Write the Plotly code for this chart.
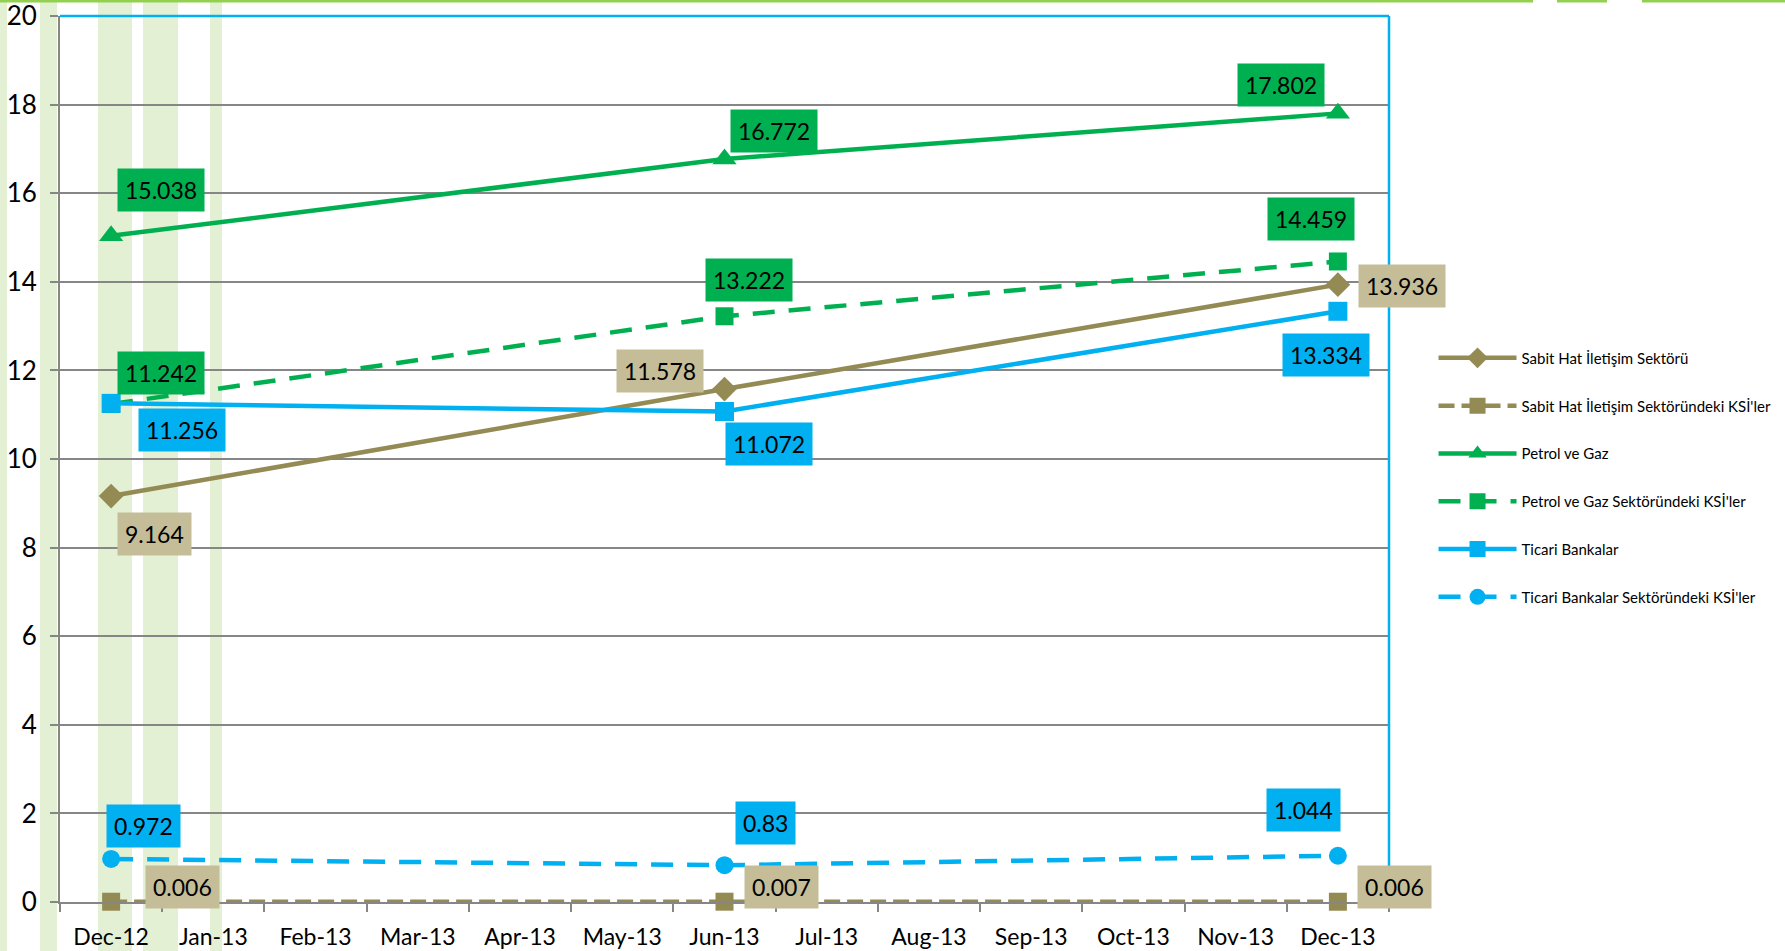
import plotly.graph_objects as go

months = ["Dec-12", "Jan-13", "Feb-13", "Mar-13", "Apr-13", "May-13", "Jun-13",
          "Jul-13", "Aug-13", "Sep-13", "Oct-13", "Nov-13", "Dec-13"]
periods = ["Dec-12", "Jun-13", "Dec-13"]

sabit_hat = [9.164, 11.578, 13.936]
sabit_hat_ksi = [0.006, 0.007, 0.006]
petrol_gaz = [15.038, 16.772, 17.802]
petrol_gaz_ksi = [11.242, 13.222, 14.459]
ticari_banka = [11.256, 11.072, 13.334]
ticari_banka_ksi = [0.972, 0.83, 1.044]

names = ["Sabit Hat İletişim Sektörü",
         "Sabit Hat İletişim Sektöründeki KSİ'ler",
         "Petrol ve Gaz",
         "Petrol ve Gaz Sektöründeki KSİ'ler",
         "Ticari Bankalar",
         "Ticari Bankalar Sektöründeki KSİ'ler"]
y_ticks = [0, 2, 4, 6, 8, 10, 12, 14, 16, 18, 20]

OLIVE, OLIVE_L = "#948a54", "#c4bd97"
GREEN = "#00b050"
BLUE = "#00b0f0"
FONT = "Lato"

series = [
    (sabit_hat, OLIVE, OLIVE_L, "solid", "diamond", 19),
    (sabit_hat_ksi, OLIVE, OLIVE_L, "16px,7px", "square", 18),
    (petrol_gaz, GREEN, GREEN, "solid", "triangle-up", 21),
    (petrol_gaz_ksi, GREEN, GREEN, "22px,14px", "square", 18),
    (ticari_banka, BLUE, BLUE, "solid", "square", 19),
    (ticari_banka_ksi, BLUE, BLUE, "22px,14px", "circle", 18),
]

# label offsets (pixels) per series per point
offsets = [
    [(43, 38), (-65, -18), (64, 1)],
    [(71, -15), (57, -15), (57, -15)],
    [(50, -46), (49, -28), (-57, -28)],
    [(50, -31), (24, -36), (-27, -42)],
    [(71, 27), (44, 32), (-12, 44)],
    [(32, -33), (41, -42), (-34, -46)],
]

fig = go.Figure()
annotations = []
for i, (vals, col, lab, dash, sym, msize) in enumerate(series):
    fig.add_trace(go.Scatter(
        x=periods, y=vals, name=names[i], mode="lines+markers",
        legendgroup=f"g{i}", cliponaxis=False,
        line=dict(color=col, width=4.5, dash=dash),
        marker=dict(color=col, symbol=sym, size=msize),
    ))
    for j, v in enumerate(vals):
        ax, ay = offsets[i][j]
        annotations.append(dict(
            x=periods[j], y=v, xref="x", yref="y", text=f"{v:g}",
            showarrow=True, arrowcolor="rgba(0,0,0,0)", arrowwidth=0.1,
            ax=ax, ay=ay, bgcolor=lab, borderpad=7,
            font=dict(family=FONT, size=23, color="#000000"),
        ))

shapes = []
# light green background stripes (slide decoration)
for x0, x1 in [(0, 7), (40, 57), (98, 132), (143, 178), (210, 222)]:
    shapes.append(dict(type="rect", xref="paper", yref="paper",
                       x0=(x0 - 60) / 1329, x1=(x1 - 60) / 1329,
                       y0=-49 / 886, y1=(951 - 49) / 886,
                       fillcolor="#e4f0d4", line=dict(width=0), layer="below"))
# top green decorative line with gaps
for x0, x1 in [(0, 1533), (1557, 1607), (1642, 1785)]:
    shapes.append(dict(type="line", xref="paper", yref="paper",
                       x0=(x0 - 60) / 1329, x1=(x1 - 60) / 1329,
                       y0=(951 - 49 - 1) / 886, y1=(951 - 49 - 1) / 886,
                       line=dict(color="#92d050", width=3), layer="below"))
# blue top and right frame
shapes.append(dict(type="line", xref="paper", yref="paper", x0=0, x1=1, y0=1, y1=1,
                   line=dict(color=BLUE, width=2.5)))
shapes.append(dict(type="line", xref="paper", yref="paper", x0=1, x1=1, y0=0, y1=1,
                   line=dict(color=BLUE, width=2.5)))

fig.update_layout(
    width=1785, height=951,
    margin=dict(l=60, r=396, t=16, b=49, autoexpand=False),
    paper_bgcolor="white", plot_bgcolor="rgba(0,0,0,0)",
    font=dict(family=FONT, size=22, color="#000000"),
    showlegend=True,
    legend=dict(x=1.0335, xanchor="left", y=0.479, yanchor="middle",
                font=dict(family=FONT, size=15, color="#000000"),
                tracegroupgap=25.3, itemwidth=78, bgcolor="rgba(0,0,0,0)"),
    annotations=annotations,
    shapes=shapes,
)
fig.update_xaxes(type="category", categoryorder="array", categoryarray=months,
                 tickvals=months, range=[-0.5, 12.5], showgrid=False, automargin=False,
                 showline=True, linecolor="#868686", linewidth=2,
                 ticks="outside", tickson="boundaries", ticklen=8, tickcolor="#868686",
                 tickwidth=1.5, tickfont=dict(family=FONT, size=23), ticklabelstandoff=13,
                 ticklabeloverflow="allow",
                 zeroline=False, fixedrange=True)
fig.update_yaxes(range=[0, 20], tickvals=y_ticks, showgrid=True, gridcolor="#868686",
                 gridwidth=1.5, showline=True, linecolor="#868686", linewidth=2,
                 automargin=False, ticklabeloverflow="allow",
                 ticks="outside", ticklen=8, tickcolor="#868686", tickwidth=1.5,
                 tickfont=dict(family=FONT, size=26), ticklabelstandoff=8,
                 zeroline=False, fixedrange=True)

fig.write_html("out.html", config={"displayModeBar": False},
               post_script="document.body.style.margin='0';document.body.style.overflow='hidden';")
